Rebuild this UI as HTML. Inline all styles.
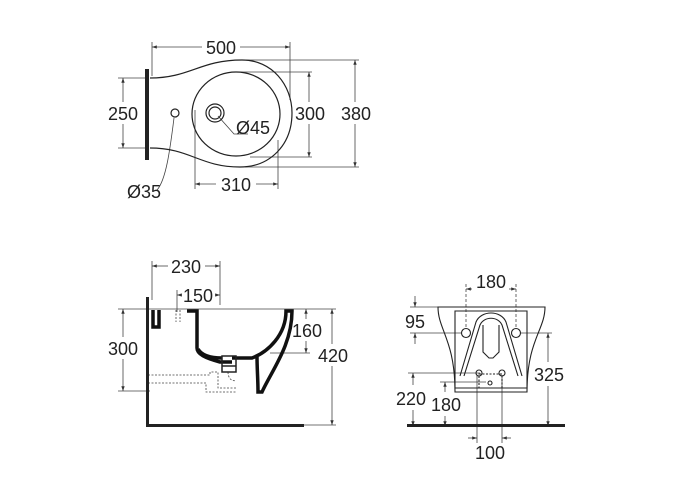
<!DOCTYPE html>
<html><head><meta charset="utf-8"><style>
html,body{margin:0;padding:0;background:#fff;}
svg{display:block;}
text{font-family:"Liberation Sans",Arial,sans-serif;font-size:18px;fill:#222;}
</style></head><body>
<svg width="700" height="500" viewBox="0 0 700 500" xmlns="http://www.w3.org/2000/svg">
<defs>
<marker id="a" viewBox="0 0 10 10" refX="10" refY="5" markerWidth="6" markerHeight="6" orient="auto-start-reverse"><path d="M0,1.5 L10,5 L0,8.5 z" fill="#333"/></marker>
</defs>
<g stroke="#444" stroke-width="0.8" fill="none">
<line x1="152" y1="42" x2="152" y2="76"/>
<line x1="290" y1="42" x2="290" y2="100"/>
<line x1="118" y1="78" x2="146" y2="78"/>
<line x1="118" y1="148" x2="146" y2="148"/>
<line x1="240" y1="72" x2="312" y2="72"/>
<line x1="250" y1="157" x2="312" y2="157"/>
<line x1="245" y1="60" x2="359" y2="60"/>
<line x1="245" y1="167" x2="359" y2="167"/>
<line x1="195" y1="110" x2="195" y2="189"/>
<line x1="278" y1="140" x2="278" y2="189"/>
<line x1="152" y1="47" x2="202" y2="47" marker-start="url(#a)"/>
<line x1="240" y1="47" x2="290" y2="47" marker-end="url(#a)"/>
<line x1="123" y1="78" x2="123" y2="102" marker-start="url(#a)"/>
<line x1="123" y1="124" x2="123" y2="148" marker-end="url(#a)"/>
<line x1="309" y1="72" x2="309" y2="102" marker-start="url(#a)"/>
<line x1="309" y1="124" x2="309" y2="157" marker-end="url(#a)"/>
<line x1="355" y1="60" x2="355" y2="102" marker-start="url(#a)"/>
<line x1="355" y1="124" x2="355" y2="167" marker-end="url(#a)"/>
<line x1="195" y1="184" x2="216" y2="184" marker-start="url(#a)"/>
<line x1="256" y1="184" x2="278" y2="184" marker-end="url(#a)"/>
<path d="M218,116 L234,134 L248,134"/>
<path d="M157,190 C166,180 170,150 174,118"/>
</g>
<g stroke="#222" stroke-width="1.2" fill="none">
<path d="M150,78 C190,78 200,60 242,60 C272,60 292,85 292,113 C292,145 270,167 240,167 C200,167 190,148 150,148"/>
<ellipse cx="236" cy="114" rx="44" ry="42"/>
<circle cx="215" cy="113" r="9"/>
<circle cx="215" cy="113" r="6"/>
<circle cx="175" cy="113" r="4"/>
</g>
<rect x="145" y="69" width="4" height="91" fill="#222"/>
<rect x="203" y="38" width="36" height="18" fill="#fff"/>
<text x="221" y="54" text-anchor="middle">500</text>
<text x="123" y="120" text-anchor="middle">250</text>
<rect x="295" y="104" width="30" height="18" fill="#fff"/>
<text x="310" y="120" text-anchor="middle">300</text>
<text x="356" y="120" text-anchor="middle">380</text>
<text x="236" y="191" text-anchor="middle">310</text>
<text x="236" y="134">Ø45</text>
<text x="127" y="198">Ø35</text>

<g stroke="#444" stroke-width="0.8" fill="none">
<line x1="152" y1="261" x2="152" y2="300"/>
<line x1="220" y1="261" x2="220" y2="305"/>
<line x1="177" y1="290" x2="177" y2="312"/>
<line x1="118" y1="309" x2="150" y2="309"/>
<line x1="118" y1="391" x2="150" y2="391"/>
<line x1="290" y1="309" x2="336" y2="309"/>
<line x1="270" y1="353" x2="310" y2="353"/>
<line x1="300" y1="425" x2="336" y2="425"/>
<line x1="152" y1="266" x2="168" y2="266" marker-start="url(#a)"/>
<line x1="205" y1="266" x2="220" y2="266" marker-end="url(#a)"/>
<line x1="177" y1="295" x2="182" y2="295" marker-start="url(#a)"/>
<line x1="215" y1="295" x2="220" y2="295" marker-end="url(#a)"/>
<line x1="123" y1="309" x2="123" y2="337" marker-start="url(#a)"/>
<line x1="123" y1="359" x2="123" y2="391" marker-end="url(#a)"/>
<line x1="306" y1="309" x2="306" y2="319" marker-start="url(#a)"/>
<line x1="306" y1="341" x2="306" y2="353" marker-end="url(#a)"/>
<line x1="332" y1="309" x2="332" y2="344" marker-start="url(#a)"/>
<line x1="332" y1="366" x2="332" y2="425" marker-end="url(#a)"/>
<line x1="150" y1="309" x2="290" y2="309"/>
<path d="M148,375 H210 V372 H218 V388 H236 M148,383 H206 V392 H236" stroke-dasharray="2,1.5"/>
<path d="M228,372 C228,380 234,382 236,380" stroke-dasharray="2,1.5"/>
<line x1="176" y1="310" x2="176" y2="322" stroke-dasharray="2,1.5"/>
<line x1="180" y1="310" x2="180" y2="322" stroke-dasharray="2,1.5"/>
</g>
<g stroke="#111" fill="none" stroke-width="3.5">
<path d="M153,310 V327 H159 V310"/>
<path d="M187,311 H197 V348 C197,354 205,358 220,362 L232,362"/>
<path d="M232,358 H252 C268,352 286,335 286,311 H292 C292,345 272,370 262,392 H258 C258,380 257,368 257,356"/>
<path d="M198,349 C202,356 212,358 222,358"/>
</g>
<rect x="222" y="356" width="14" height="16" fill="none" stroke="#222" stroke-width="1.5"/>
<line x1="222" y1="366" x2="236" y2="366" stroke="#222" stroke-width="1.5"/>
<rect x="146" y="297" width="3" height="130" fill="#222"/>
<rect x="146" y="424" width="158" height="3" fill="#222"/>
<text x="186" y="273" text-anchor="middle">230</text>
<text x="198" y="302" text-anchor="middle">150</text>
<text x="123" y="355" text-anchor="middle">300</text>
<text x="307" y="337" text-anchor="middle">160</text>
<text x="333" y="362" text-anchor="middle">420</text>

<g stroke="#444" stroke-width="0.8" fill="none">
<line x1="410" y1="307" x2="440" y2="307"/>
<line x1="410" y1="333" x2="462" y2="333"/>
<line x1="520" y1="333" x2="552" y2="333"/>
<line x1="408" y1="373" x2="480" y2="373"/>
<line x1="440" y1="382" x2="486" y2="382"/>
<line x1="466" y1="284" x2="466" y2="328" stroke-dasharray="3,2"/>
<line x1="516" y1="284" x2="516" y2="328" stroke-dasharray="3,2"/>
<line x1="477" y1="375" x2="477" y2="443"/>
<line x1="502" y1="375" x2="502" y2="443"/>
<line x1="466" y1="289" x2="472" y2="289" marker-start="url(#a)"/>
<line x1="509" y1="289" x2="516" y2="289" marker-end="url(#a)"/>
<line x1="415" y1="296" x2="415" y2="307" marker-end="url(#a)"/>
<line x1="415" y1="344" x2="415" y2="333" marker-end="url(#a)"/>
<line x1="548" y1="333" x2="548" y2="362" marker-start="url(#a)"/>
<line x1="548" y1="386" x2="548" y2="426" marker-end="url(#a)"/>
<line x1="413" y1="373" x2="413" y2="385" marker-start="url(#a)"/>
<line x1="413" y1="410" x2="413" y2="426" marker-end="url(#a)"/>
<line x1="445" y1="382" x2="445" y2="392" marker-start="url(#a)"/>
<line x1="445" y1="416" x2="445" y2="426" marker-end="url(#a)"/>
<line x1="468" y1="438" x2="477" y2="438" marker-end="url(#a)"/>
<line x1="511" y1="438" x2="502" y2="438" marker-end="url(#a)"/>
</g>
<g stroke="#222" stroke-width="1.1" fill="none">
<path d="M438,307 H545 C545,330 527,340 527,392 H455 C455,340 438,330 438,307 Z"/>
<path d="M455,311 H527 V388 H455 Z"/>
<path d="M460,376 L476,322 C481,310 501,310 506,322 L522,376"/>
<path d="M464,376 L480,325 C484,316 498,316 502,325 L518,376"/>
<path d="M483,325 V352 L489,358 H493 L499,352 V325"/>
<rect x="479" y="374" width="23" height="14" stroke-dasharray="2,1.5"/>
<circle cx="466" cy="333" r="4.5"/>
<circle cx="516" cy="333" r="4.5"/>
<circle cx="479" cy="373" r="3"/>
<circle cx="502" cy="373" r="3"/>
<circle cx="490" cy="383" r="2"/>
</g>
<rect x="407" y="424" width="158" height="3" fill="#222"/>
<text x="491" y="288" text-anchor="middle">180</text>
<text x="415" y="328" text-anchor="middle">95</text>
<text x="549" y="381" text-anchor="middle">325</text>
<text x="411" y="405" text-anchor="middle">220</text>
<text x="446" y="411" text-anchor="middle">180</text>
<text x="490" y="459" text-anchor="middle">100</text>
</svg>
</body></html>
